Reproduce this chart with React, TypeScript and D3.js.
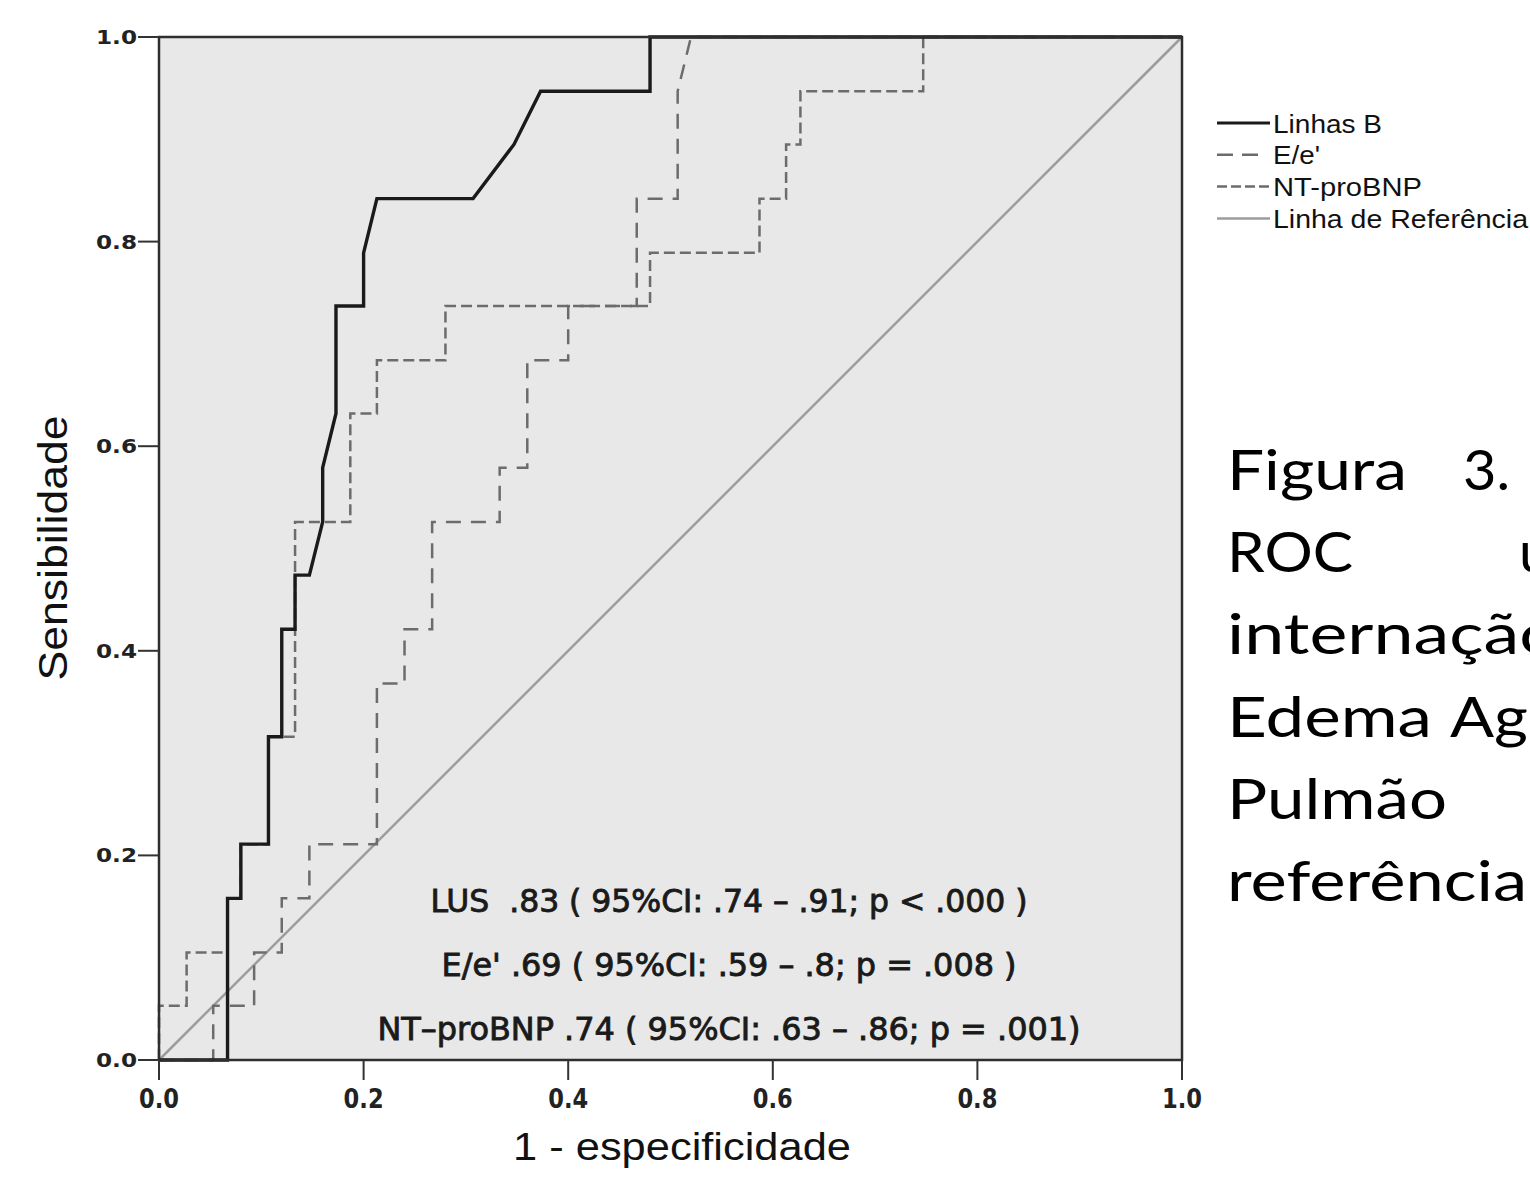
import React from 'react';
import * as d3 from 'd3';

// axis ticks
const tickValues = [0, 0.2, 0.4, 0.6, 0.8, 1.0];
const tickLabels = ['0.0', '0.2', '0.4', '0.6', '0.8', '1.0'];

// ROC curves (1 - especificidade, sensibilidade)
const linhasFpr = [0, 0.067, 0.067, 0.08, 0.08, 0.107, 0.107, 0.12, 0.12, 0.133, 0.133, 0.147, 0.16, 0.16, 0.173, 0.173, 0.2, 0.2, 0.213, 0.307, 0.347, 0.373, 0.48, 0.48, 1];
const linhasTpr = [0, 0, 0.158, 0.158, 0.211, 0.211, 0.316, 0.316, 0.421, 0.421, 0.474, 0.474, 0.526, 0.579, 0.632, 0.737, 0.737, 0.789, 0.842, 0.842, 0.895, 0.947, 0.947, 1, 1];

const eeFpr = [0, 0.053, 0.053, 0.093, 0.093, 0.12, 0.12, 0.147, 0.147, 0.213, 0.213, 0.24, 0.24, 0.267, 0.267, 0.333, 0.333, 0.36, 0.36, 0.4, 0.4, 0.467, 0.467, 0.507, 0.507, 0.52, 1];
const eeTpr = [0, 0, 0.053, 0.053, 0.105, 0.105, 0.158, 0.158, 0.211, 0.211, 0.368, 0.368, 0.421, 0.421, 0.526, 0.526, 0.579, 0.579, 0.684, 0.684, 0.737, 0.737, 0.842, 0.842, 0.947, 1, 1];

const ntFpr = [0, 0, 0.027, 0.027, 0.067, 0.067, 0.08, 0.08, 0.107, 0.107, 0.133, 0.133, 0.187, 0.187, 0.213, 0.213, 0.28, 0.28, 0.48, 0.48, 0.587, 0.587, 0.613, 0.613, 0.627, 0.627, 0.747, 0.747, 1];
const ntTpr = [0, 0.053, 0.053, 0.105, 0.105, 0.158, 0.158, 0.211, 0.211, 0.316, 0.316, 0.526, 0.526, 0.632, 0.632, 0.684, 0.684, 0.737, 0.737, 0.789, 0.789, 0.842, 0.842, 0.895, 0.895, 0.947, 0.947, 1, 1];

const refFpr = [0, 1];
const refTpr = [0, 1];

const legendNames = ['Linhas B', "E/e'", 'NT-proBNP', 'Linha de Referência'];
const aucTexts = [
  'LUS  .83 ( 95%CI: .74 – .91; p < .000 )',
  "E/e' .69 ( 95%CI: .59 – .8; p = .008 )",
  'NT–proBNP .74 ( 95%CI: .63 – .86; p = .001)',
];

const W = 1530;
const H = 1178;
const plot = { left: 159, top: 37, right: 1182, bottom: 1060 };

export default function App() {
  const x = d3.scaleLinear().domain([0, 1]).range([plot.left, plot.right]);
  const y = d3.scaleLinear().domain([0, 1]).range([plot.bottom, plot.top]);
  const line = d3.line<[number, number]>().x(d => x(d[0])).y(d => y(d[1]));

  const series = [
    { name: legendNames[3], fpr: refFpr, tpr: refTpr, stroke: '#9c9c9c', width: 2.5, dash: undefined as string | undefined, legDash: undefined as string | undefined, legW: 53, textW: 255 },
    { name: legendNames[2], fpr: ntFpr, tpr: ntTpr, stroke: '#6c6c6c', width: 2.5, dash: '11 5', legDash: '10 4', legW: 53, textW: 149 },
    { name: legendNames[1], fpr: eeFpr, tpr: eeTpr, stroke: '#6c6c6c', width: 2.5, dash: '15 10', legDash: '16 9', legW: 45, textW: 47 },
    { name: legendNames[0], fpr: linhasFpr, tpr: linhasTpr, stroke: '#1a1a1a', width: 3.4, dash: undefined, legDash: undefined, legW: 53, textW: 109 },
  ];
  const legendOrder = [3, 2, 1, 0];

  const aucY = [912, 976, 1040];
  const aucW = [597, 575, 703];

  return (
    <svg width={W} height={H} style={{ position: 'absolute', left: 0, top: 0, display: 'block', background: '#fff' }}>
      <rect x={plot.left} y={plot.top} width={plot.right - plot.left} height={plot.bottom - plot.top} fill="#e7e8e7" />

      {series.map(s => (
        <path key={s.name} d={line(s.fpr.map((f, i) => [f, s.tpr[i]] as [number, number])) || ''}
          fill="none" stroke={s.stroke} strokeWidth={s.width} strokeDasharray={s.dash} strokeLinejoin="miter" />
      ))}

      <rect x={plot.left} y={plot.top} width={plot.right - plot.left} height={plot.bottom - plot.top} fill="none" stroke="#2e2e2e" strokeWidth={2.5} />

      {/* y axis */}
      {tickValues.map((t, i) => (
        <g key={'y' + t}>
          <line x1={plot.left - 21} x2={plot.left} y1={y(t)} y2={y(t)} stroke="#333" strokeWidth={2} />
          <text x={137} y={y(t) + 7} textAnchor="end" fontFamily="'DejaVu Sans', Verdana, sans-serif" fontWeight="bold"
            fontSize={20} fill="#222" textLength={41} lengthAdjust="spacingAndGlyphs">{tickLabels[i]}</text>
        </g>
      ))}
      {/* x axis */}
      {tickValues.map((t, i) => (
        <g key={'x' + t}>
          <line x1={x(t)} x2={x(t)} y1={plot.bottom} y2={plot.bottom + 20} stroke="#333" strokeWidth={2} />
          <text x={x(t)} y={1108} textAnchor="middle" fontFamily="'DejaVu Sans', Verdana, sans-serif" fontWeight="bold"
            fontSize={26} fill="#222" textLength={40} lengthAdjust="spacingAndGlyphs">{tickLabels[i]}</text>
        </g>
      ))}

      <text x={682} y={1160} textAnchor="middle" fontFamily="'Liberation Sans', Arial, sans-serif" fontSize={38}
        fill="#111" textLength={338} lengthAdjust="spacingAndGlyphs">1 - especificidade</text>
      <text transform="translate(67,548) rotate(-90)" textAnchor="middle" fontFamily="'Liberation Sans', Arial, sans-serif"
        fontSize={40} fill="#111" textLength={265} lengthAdjust="spacingAndGlyphs">Sensibilidade</text>

      {aucTexts.map((t, i) => (
        <text key={t} x={729} y={aucY[i]} textAnchor="middle" fontFamily="'DejaVu Sans Condensed', 'DejaVu Sans', sans-serif"
          fontSize={32} fill="#1a1a1a" stroke="#1a1a1a" strokeWidth={0.8} textLength={aucW[i]}
          lengthAdjust="spacingAndGlyphs" style={{ whiteSpace: 'pre' }}>{t}</text>
      ))}

      {/* legend */}
      {legendOrder.map((si, k) => {
        const s = series[si];
        const ly = 123 + k * 31.8;
        return (
          <g key={'leg' + s.name}>
            <line x1={1217} x2={1217 + s.legW} y1={ly} y2={ly} stroke={s.stroke} strokeWidth={Math.min(s.width, 3)}
              strokeDasharray={s.legDash} />
            <text x={1273} y={ly + 9.5} fontFamily="'Liberation Sans', Arial, sans-serif" fontSize={26} fill="#111"
              textLength={s.textW} lengthAdjust="spacingAndGlyphs">{s.name}</text>
          </g>
        );
      })}

      {/* caption text beside the chart */}
      <g fontFamily="Lato, 'Open Sans', sans-serif" fontSize={57} fill="#000">
        <text x={1227} y={490} textLength={180} lengthAdjust="spacingAndGlyphs">Figura</text>
        <text x={1463} y={490} textLength={47} lengthAdjust="spacingAndGlyphs">3.</text>
        <text x={1227} y={572} textLength={126} lengthAdjust="spacingAndGlyphs">ROC</text>
        <text x={1519} y={572}>u</text>
        <text x={1227} y={654} textLength={333} lengthAdjust="spacingAndGlyphs">internação</text>
        <text x={1227} y={737} textLength={205} lengthAdjust="spacingAndGlyphs">Edema</text>
        <text x={1450} y={737} textLength={78} lengthAdjust="spacingAndGlyphs">Ag</text>
        <text x={1227} y={819} textLength={220} lengthAdjust="spacingAndGlyphs">Pulmão</text>
        <text x={1227} y={901} textLength={300} lengthAdjust="spacingAndGlyphs">referência</text>
      </g>
    </svg>
  );
}
